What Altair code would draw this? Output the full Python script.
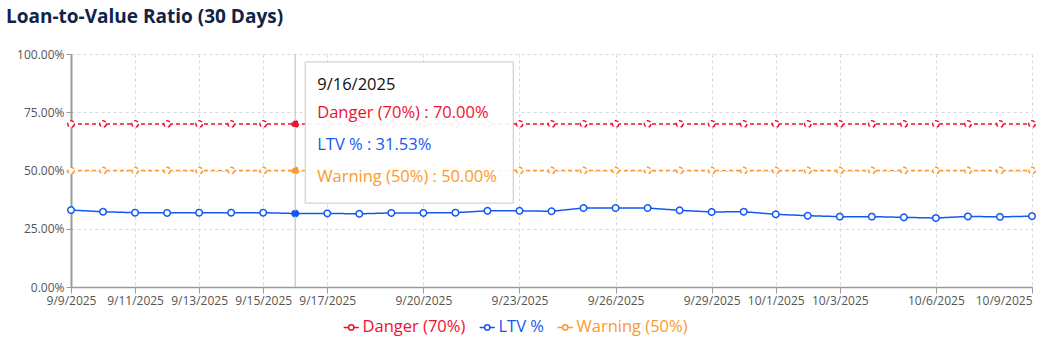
import altair as alt
import pandas as pd

dates = [d.strftime("%-m/%-d/%Y") for d in pd.date_range("2025-09-09", "2025-10-09")]
tick_dates = ["9/9/2025", "9/11/2025", "9/13/2025", "9/15/2025", "9/17/2025", "9/20/2025",
              "9/23/2025", "9/26/2025", "9/29/2025", "10/1/2025", "10/3/2025", "10/6/2025", "10/9/2025"]
ltv = [33.0, 32.3, 31.9, 31.8, 31.9, 31.9, 31.9, 31.53, 31.6, 31.4, 31.8, 31.8, 31.9, 32.7, 32.7, 32.5,
       33.9, 33.9, 33.9, 32.9, 32.2, 32.3, 31.2, 30.6, 30.2, 30.2, 29.9, 29.6, 30.3, 30.1, 30.4]
danger = [70.0] * len(dates)
warning = [50.0] * len(dates)
series = ["Danger (70%)", "LTV %", "Warning (50%)"]
kinds = ["threshold", "actual", "threshold"]
colors = ["#f01030", "#1458f0", "#fb9a2c"]
hover_date = "9/16/2025"

rows = []
for name, kind, col, vals in zip(series, kinds, colors, [danger, ltv, warning]):
    for d, v in zip(dates, vals):
        rows.append({"date": d, "series": name, "kind": kind, "value": v / 100, "hex": col})
df = pd.DataFrame(rows)

font = "Open Sans"
xenc = alt.X("date:O", sort=dates, scale=alt.Scale(type="point", padding=0),
             axis=alt.Axis(values=tick_dates, labelAngle=0, title=None, grid=True,
                           gridDash=[3, 3], gridColor="#d9d9d9", domainColor="#9a9a9a",
                           domainWidth=1.5, tickColor="#9a9a9a", tickSize=6,
                           labelColor="#555555", labelFontSize=12, labelFont=font,
                           labelPadding=2,
                           labelAlign=alt.ExprRef("datum.value == '%s' ? 'right' : 'center'" % tick_dates[-1])))
yenc = alt.Y("value:Q", scale=alt.Scale(domain=[0, 1]),
             axis=alt.Axis(values=[0, 0.25, 0.5, 0.75, 1], format=".2%", title=None,
                           gridDash=[3, 3], gridColor="#d9d9d9", domainColor="#9a9a9a",
                           domainWidth=2, tickColor="#9a9a9a", tickSize=5,
                           labelColor="#555555", labelFontSize=12, labelFont=font,
                           labelPadding=2))

label_color_expr = ("datum.label == '%s' ? '%s' : datum.label == '%s' ? '%s' : '%s'"
                    % (series[0], colors[0], series[1], colors[1], colors[2]))
legend_symbol = "M-1.6,0 L-0.55,0 M0.55,0 L1.6,0 M0.55,0 A0.55,0.55 0 1,1 -0.55,0 A0.55,0.55 0 1,1 0.55,0"
color = alt.Color("series:N", scale=alt.Scale(domain=series, range=colors),
                  legend=alt.Legend(title=None, orient="none", direction="horizontal",
                                    legendX=272, legendY=265, symbolType=legend_symbol,
                                    symbolSize=90, symbolStrokeWidth=1.5, symbolFillColor="white",
                                    labelFontSize=16.5, labelFont=font, columnPadding=10,
                                    symbolOffset=0, labelOffset=3,
                                    labelColor=alt.ExprRef(label_color_expr)))
dash = alt.StrokeDash("kind:N", scale=alt.Scale(domain=["threshold", "actual"], range=[[4, 3], [1, 0]]),
                      legend=None)

base = alt.Chart(df)
lines = base.mark_line(strokeWidth=1.5).encode(x=xenc, y=yenc, color=color, strokeDash=dash)
points = base.mark_point(filled=False, fill="white", fillOpacity=1, size=42, strokeWidth=1.5, opacity=1).encode(
    x=xenc, y=yenc, color=color, strokeDash=dash)

cross = alt.Chart(pd.DataFrame({"date": [hover_date]})).mark_rule(color="#d0d0d0", strokeWidth=1.5).encode(
    x=alt.X("date:O", sort=dates), y=alt.datum(0), y2=alt.datum(1))
hov = base.transform_filter(alt.datum.date == hover_date).mark_point(
    filled=True, size=38, opacity=1, shape="circle").encode(
    x=xenc, y=yenc, fill=alt.Fill("hex:N", scale=None))

tip_box = alt.Chart(pd.DataFrame({"date": [hover_date]})).mark_rect(
    fill="white", fillOpacity=0.92, stroke="#c8c8c8", strokeWidth=1, xOffset=10, x2Offset=218).encode(
    x=alt.X("date:O", sort=dates), x2=alt.X2("date"), y=alt.datum(0.966), y2=alt.datum(0.36))

tip_lines = ["9/16/2025", "Danger (70%) : 70.00%", "LTV % : 31.53%", "Warning (50%) : 50.00%"]
tip_y = [0.867, 0.747, 0.609, 0.472]
tip_colors = ["#111111", colors[0], colors[1], colors[2]]
tip_df = pd.DataFrame({"date": [hover_date] * 4, "text": tip_lines, "y": tip_y, "c": tip_colors})
tip_text = alt.Chart(tip_df).mark_text(align="left", baseline="middle", dx=22, fontSize=16.5, font=font).encode(
    x=alt.X("date:O", sort=dates), y=alt.Y("y:Q"), text="text:N", color=alt.Color("c:N", scale=None))

chart = alt.layer(lines, points, cross, hov, tip_box, tip_text).properties(
    width=961, height=233,
    autosize=alt.AutoSizeParams(type="none"),
    padding={"left": 71, "top": 54, "right": 16, "bottom": 63},
    title=alt.TitleParams("Loan-to-Value Ratio (30 Days)", anchor="start", frame="group",
                          fontSize=19, fontWeight="bold", color="#0f2447", font=font,
                          dx=-65, offset=21),
).configure_view(stroke=None)

chart.save("out.html", embed_options={"renderer": "svg", "actions": False})
